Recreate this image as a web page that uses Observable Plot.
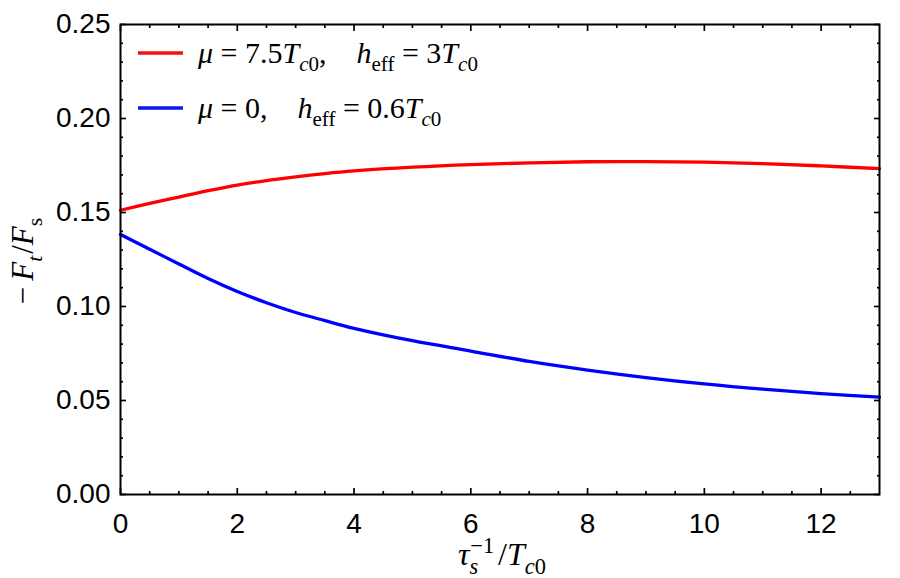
<!DOCTYPE html>
<html><head><meta charset="utf-8">
<script src="https://cdn.jsdelivr.net/npm/d3@7"></script>
<script src="https://cdn.jsdelivr.net/npm/@observablehq/plot@0.6"></script>
<style>body{margin:0;background:#fff} #chart{width:900px;height:578px}</style>
</head><body><div id="chart"></div>
<script>
const xValues   = [0, 0.5, 1, 1.5, 2, 2.5, 3, 3.5, 4, 5, 6, 7, 8, 9, 10, 11, 12, 13];
const redValues = [0.1512, 0.1548, 0.1582, 0.1616, 0.1646, 0.1670, 0.1690, 0.1707, 0.1721, 0.1741, 0.1755, 0.1764, 0.1770, 0.1771, 0.1768, 0.1760, 0.1748, 0.1733];
const blueValues= [0.1383, 0.1305, 0.1226, 0.1149, 0.1080, 0.1020, 0.0968, 0.0925, 0.0884, 0.0818, 0.0763, 0.0708, 0.0662, 0.0622, 0.0588, 0.0560, 0.0537, 0.0518];
const seriesNames = ["red", "blue"];
const seriesColors = ["#f21212", "#1212f2"];
const xMajorTicks = [0, 2, 4, 6, 8, 10, 12];
const xMinorTicks = [0.5, 1, 1.5, 2.5, 3, 3.5, 4.5, 5, 5.5, 6.5, 7, 7.5, 8.5, 9, 9.5, 10.5, 11, 11.5, 12.5];
const yMajorTicks = [0, 0.05, 0.10, 0.15, 0.20, 0.25];
const yMinorTicks = [0.01, 0.02, 0.03, 0.04, 0.06, 0.07, 0.08, 0.09, 0.11, 0.12, 0.13, 0.14, 0.16, 0.17, 0.18, 0.19, 0.21, 0.22, 0.23, 0.24];

const table = [
  ...xValues.map((x, i) => ({x, y: redValues[i], series: seriesNames[0]})),
  ...xValues.map((x, i) => ({x, y: blueValues[i], series: seriesNames[1]}))
];

const SANS = "Liberation Sans, Arial, Helvetica, sans-serif";
const SERIF = "Liberation Serif, Times New Roman, serif";
const blank = () => "";
const tickMarks = (fn, ticks, anchor, size) =>
  fn(ticks, {anchor, tickSize: -size, tickFormat: blank, label: null, strokeWidth: 1.7, stroke: "black"});

const plot = Plot.plot({
  width: 900, height: 578,
  marginLeft: 120, marginRight: 21, marginTop: 24, marginBottom: 84,
  style: {background: "white", color: "black"},
  x: {domain: [0, 13], label: null},
  y: {domain: [0, 0.25], label: null},
  color: {domain: seriesNames, range: seriesColors},
  marks: [
    tickMarks(Plot.axisX, xMajorTicks, "bottom", 6),
    tickMarks(Plot.axisX, xMinorTicks, "bottom", 3),
    tickMarks(Plot.axisX, xMajorTicks, "top", 6),
    tickMarks(Plot.axisX, xMinorTicks, "top", 3),
    tickMarks(Plot.axisY, yMajorTicks, "left", 6),
    tickMarks(Plot.axisY, yMinorTicks, "left", 3),
    tickMarks(Plot.axisY, yMajorTicks, "right", 6),
    tickMarks(Plot.axisY, yMinorTicks, "right", 3),
    Plot.axisX(xMajorTicks, {anchor: "bottom", tickSize: 0, tickPadding: 19, fontSize: 28, fontFamily: SANS, tickFormat: d => String(d), label: null}),
    Plot.axisY(yMajorTicks, {anchor: "left", tickSize: 0, tickPadding: 10, fontSize: 28, fontFamily: SANS, tickFormat: d3.format(".2f"), label: null}),
    Plot.line(table, {x: "x", y: "y", z: "series", stroke: "series", strokeWidth: 3.3, curve: "catmull-rom"}),
    Plot.frame({stroke: "black", strokeWidth: 2})
  ]
});
document.getElementById("chart").appendChild(plot);

const svg = d3.select(plot);
function mathText(g, parts, size) {
  const text = g.append("text").attr("font-family", SERIF).attr("font-size", size)
    .attr("fill", "black").attr("text-anchor", "start").style("white-space", "pre");
  let prev = 0;
  for (const p of parts) {
    const small = p.sub || p.sup;
    const shift = p.sub ? 0.28 * size : p.sup ? -0.38 * size : 0;
    const ts = text.append("tspan").text(p.t)
      .attr("dy", shift - prev)
      .attr("font-style", p.i ? "italic" : "normal")
      .attr("font-size", small ? 0.7 * size : size);
    if (p.dx) ts.attr("dx", p.dx);
    prev = shift;
  }
  return text;
}

// Legend
const legendItems = [
  {color: seriesColors[0], y: 53, parts: [
    {t: "μ", i: 1}, {t: " = "}, {t: "7.5"}, {t: "T", i: 1}, {t: "c", i: 1, sub: 1}, {t: "0", sub: 1},
    {t: ",    "}, {t: "h", i: 1}, {t: "eff", sub: 1}, {t: " = "}, {t: "3"}, {t: "T", i: 1}, {t: "c", i: 1, sub: 1}, {t: "0", sub: 1}]},
  {color: seriesColors[1], y: 108, parts: [
    {t: "μ", i: 1}, {t: " = "}, {t: "0"}, {t: ",    "}, {t: "h", i: 1}, {t: "eff", sub: 1}, {t: " = "},
    {t: "0.6"}, {t: "T", i: 1}, {t: "c", i: 1, sub: 1}, {t: "0", sub: 1}]}
];
const lg = svg.append("g");
for (const item of legendItems) {
  lg.append("line").attr("x1", 138).attr("x2", 183).attr("y1", item.y).attr("y2", item.y)
    .attr("stroke", item.color).attr("stroke-width", 3.3);
  mathText(lg, item.parts, 30).attr("x", 198).attr("y", item.y + 10);
}

// X axis label
mathText(svg.append("g"), [
  {t: "τ", i: 1}, {t: "s", i: 1, sub: 1}, {t: "−1", sup: 1, dx: -8}, {t: "/", dx: 4}, {t: "T", i: 1}, {t: "c", i: 1, sub: 1}, {t: "0", sub: 1}
], 32).attr("x", 502).attr("y", 565).attr("text-anchor", "middle");

// Y axis label
mathText(svg.append("g").attr("transform", "translate(33,261) rotate(-90)"), [
  {t: "−"}, {t: "F", i: 1, dx: 6}, {t: "t", i: 1, sub: 1}, {t: "/", dx: 2}, {t: "F", i: 1}, {t: "s", sub: 1}
], 31).attr("x", 0).attr("y", 0).attr("text-anchor", "middle");
</script>
</body></html>
